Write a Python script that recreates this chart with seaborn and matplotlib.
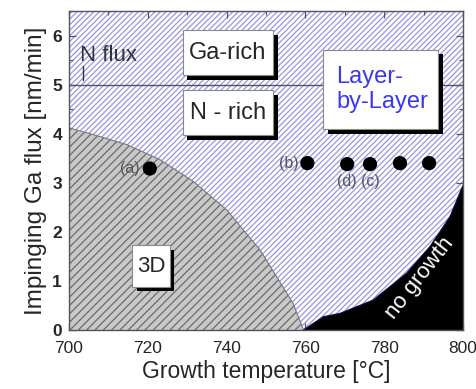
import matplotlib
matplotlib.use("Agg")
import matplotlib.pyplot as plt
import matplotlib.transforms as mtransforms
from matplotlib.patches import Rectangle
from matplotlib.ticker import MultipleLocator
import pandas as pd
import seaborn as sns

# Growth samples (temperature in °C, impinging Ga flux in nm/min)
sample_temp = [720.5, 760.5, 770.6, 776.4, 784.0, 791.4]
sample_flux = [3.29, 3.40, 3.38, 3.38, 3.40, 3.40]
sample_tags = ["(a)", "(b)", "(d)", "(c)", "", ""]

# Upper border of the 3D growth regime
border_3d_temp = [700.0, 706.2, 714.6, 723.1, 731.5, 740.0, 748.5, 756.9, 759.5]
border_3d_flux = [4.12, 3.98, 3.78, 3.47, 3.03, 2.45, 1.63, 0.54, 0.0]

# Upper border of the no-growth regime (Ga desorption)
border_ng_temp = [759.5, 764.5, 768.8, 777.2, 785.7, 791.6, 796.7, 800.0]
border_ng_flux = [0.0, 0.27, 0.34, 0.61, 1.16, 1.70, 2.31, 2.95]

# Nitrogen flux separating Ga-rich and N-rich conditions
n_flux = 5.0

x_ticks = [700, 720, 740, 760, 780, 800]
y_ticks = [0, 1, 2, 3, 4, 5, 6]

sns.set_style("ticks")
plt.rcParams["font.family"] = ["Liberation Sans", "DejaVu Sans"]
plt.rcParams["hatch.linewidth"] = 0.9

fig = plt.figure(figsize=(4.77, 3.89), dpi=100)
ax = fig.add_axes([69 / 477, 59 / 389, 394 / 477, 319 / 389])
ax.set_xlim(700, 800)
ax.set_ylim(0, 6.5)

# Layer-by-layer background (whole diagram)
ax.fill_between([700, 800], 0, 6.5, facecolor="white", edgecolor="#9696e4",
                hatch="//////", linewidth=0, zorder=0)

# 3D regime
ax.fill_between(border_3d_temp, 0, border_3d_flux, facecolor="#c8c8c8",
                edgecolor="#6a6a6a", hatch="////", linewidth=0, zorder=1)
border_3d = pd.DataFrame({"T": border_3d_temp, "F": border_3d_flux})
sns.lineplot(data=border_3d, x="T", y="F", ax=ax, color="#7a7a7a", lw=0.8,
             sort=False, zorder=2)

# No-growth regime
ax.fill_between(border_ng_temp, 0, border_ng_flux, facecolor="black",
                edgecolor="none", linewidth=0, zorder=1)
border_ng = pd.DataFrame({"T": border_ng_temp, "F": border_ng_flux})
sns.lineplot(data=border_ng, x="T", y="F", ax=ax, color="#10104a", lw=0.8,
             sort=False, zorder=2)

# N flux line
ax.axhline(n_flux, color="#555555", lw=1.0, zorder=3)
ax.plot([703.6, 703.6], [n_flux + 0.1, n_flux + 0.37], color="#333333", lw=1.0, zorder=3)
ax.text(702.8, 5.6, "N flux", fontsize=16, color="#333333", ha="left", va="center", zorder=3)

# Samples
samples = pd.DataFrame({"T": sample_temp, "F": sample_flux, "tag": sample_tags})
sns.scatterplot(data=samples, x="T", y="F", ax=ax, color="black", s=105,
                edgecolor="none", zorder=8, legend=False)
tag_style = dict(fontsize=11.5, color="#555555", zorder=8)
ax.annotate(sample_tags[0], (sample_temp[0], sample_flux[0]), xytext=(-7, 0),
            textcoords="offset points", ha="right", va="center", **tag_style)
ax.annotate(sample_tags[1], (sample_temp[1], sample_flux[1]), xytext=(-6, 0),
            textcoords="offset points", ha="right", va="center", **tag_style)
ax.annotate(sample_tags[2], (sample_temp[2], sample_flux[2]), xytext=(0, -7),
            textcoords="offset points", ha="center", va="top", **tag_style)
ax.annotate(sample_tags[3], (sample_temp[3], sample_flux[3]), xytext=(0, -7),
            textcoords="offset points", ha="center", va="top", **tag_style)


def shadow_box(x0, y0, x1, y1):
    shade = mtransforms.offset_copy(ax.transAxes, fig=fig, x=4.5, y=-4.5, units="dots")
    ax.add_patch(Rectangle((x0, y0), x1 - x0, y1 - y0, transform=shade,
                           facecolor="black", edgecolor="none", zorder=9))
    ax.add_patch(Rectangle((x0, y0), x1 - x0, y1 - y0, transform=ax.transAxes,
                           facecolor="white", edgecolor="#8a8a8a", lw=0.8, zorder=10))


shadow_box(0.289, 0.799, 0.518, 0.940)
ax.text(0.4035, 0.8695, "Ga-rich", transform=ax.transAxes, fontsize=17,
        ha="center", va="center", zorder=11)
shadow_box(0.289, 0.611, 0.518, 0.752)
ax.text(0.4035, 0.6815, "N - rich", transform=ax.transAxes, fontsize=17,
        ha="center", va="center", zorder=11)
shadow_box(0.645, 0.630, 0.937, 0.878)
ax.text(0.678, 0.754, "Layer-\nby-Layer", transform=ax.transAxes, fontsize=17,
        color="#3838f0", ha="left", va="center", linespacing=1.15, zorder=11)
shadow_box(0.160, 0.135, 0.256, 0.266)
ax.text(0.208, 0.2005, "3D", transform=ax.transAxes, fontsize=16,
        ha="center", va="center", zorder=11)

ax.text(789.0, 1.05, "no growth", fontsize=16, color="white", rotation=52,
        ha="center", va="center", rotation_mode="anchor", zorder=6)

# Axes styling
ax.set_xticks(x_ticks)
ax.set_yticks(y_ticks)
ax.xaxis.set_minor_locator(MultipleLocator(10))
ax.yaxis.set_minor_locator(MultipleLocator(0.5))
ax.tick_params(which="both", direction="in", top=True, right=True, color="#555555")
ax.tick_params(which="major", length=5, width=0.9)
ax.tick_params(which="minor", length=3, width=0.8)
ax.tick_params(axis="x", labelsize=12.5, pad=8)
ax.tick_params(axis="y", labelsize=12.5, pad=5)
for lab in ax.get_yticklabels():
    lab.set_fontweight("bold")
for sp in ax.spines.values():
    sp.set_color("#555555")
    sp.set_linewidth(1.0)
    sp.set_zorder(12)

ax.set_xlabel("Growth temperature [°C]", fontsize=16.5, labelpad=3)
ax.set_ylabel("Impinging Ga flux [nm/min]", fontsize=17.5, labelpad=4)

fig.savefig("out.png", dpi=100)
